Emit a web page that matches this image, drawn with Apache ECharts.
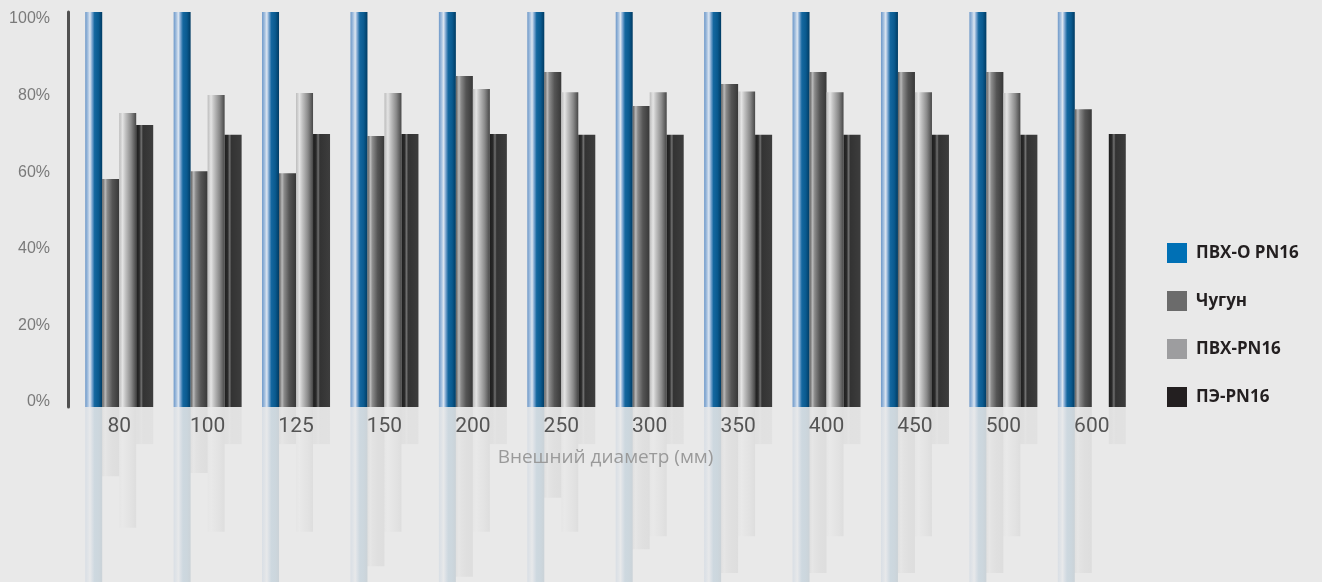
<!DOCTYPE html>
<html>
<head>
<meta charset="utf-8">
<title>Внешний диаметр (мм)</title>
<script src="https://cdn.jsdelivr.net/npm/echarts@6/dist/echarts.min.js"></script>
<style>
  html, body { margin: 0; padding: 0; background: #e9e9e9; }
  #chart { width: 1322px; height: 582px; }
</style>
</head>
<body>
<div id="chart"></div>
<script>
// Diameters, mm
const diameters = ['80', '100', '125', '150', '200', '250', '300', '350', '400', '450', '500', '600'];

// Values, % of the 0–100 scale
const pvhoPN16 = [100, 100, 100, 100, 100, 100, 100, 100, 100, 100, 100, 100];
const chugun   = [57.7, 59.7, 59.2, 68.6, 83.8, 84.8, 76.2, 81.8, 84.8, 84.8, 84.8, 75.4];
const pvhPN16  = [74.4, 79.0, 79.5, 79.5, 80.5, 79.7, 79.7, 79.9, 79.7, 79.7, 79.5, '-'];
const pePN16   = [71.4, 68.9, 69.1, 69.1, 69.1, 68.9, 68.9, 68.9, 68.9, 68.9, 68.9, 69.1];

// Length of the mirrored reflection under the axis, same % units
const reflPvho   = [100, 100, 100, 100, 100, 100, 100, 100, 100, 100, 100, 100];
const reflChugun = [17.5, 16.7, 9.4, 40.3, 43.0, 23.0, 36.0, 42.0, 42.0, 42.0, 42.0, 42.0];
const reflPvh    = [30.6, 31.6, 31.6, 31.6, 31.6, 31.6, 32.7, 32.7, 32.7, 32.7, 32.7, '-'];
const reflPe     = [9.4, 9.4, 9.4, 9.4, 9.4, 9.4, 9.4, 9.4, 9.4, 9.4, 9.4, 9.4];

const yTicks = [0, 20, 40, 60, 80, 100];

const seriesNames = ['ПВХ-О PN16', 'Чугун', 'ПВХ-PN16', 'ПЭ-PN16'];
const legendColors = ['#0070b5', '#6b6b6b', '#9d9d9f', '#231f20'];

const G = echarts.graphic.LinearGradient;
const gradients = [
  [[0, '#6d98c9'], [0.16, '#a6c1df'], [0.28, '#dde6f1'], [0.4, '#7fa8d2'], [0.55, '#14679f'], [0.78, '#0a5a8f'], [1, '#003b63']],
  [[0, '#5c5c5c'], [0.18, '#b9b9b9'], [0.3, '#8a8a8a'], [0.6, '#555555'], [1, '#383838']],
  [[0, '#bbbbbb'], [0.2, '#e4e4e4'], [0.36, '#c4c4c4'], [0.7, '#8a8a8a'], [1, '#474747']],
  [[0, '#1e1e1e'], [0.18, '#2a2a2a'], [0.3, '#707070'], [0.4, '#333333'], [1, '#3d3d3d']]
];
const fill = i => new G(0, 0, 1, 0, gradients[i].map(s => ({ offset: s[0], color: s[1] })));

const values = [pvhoPN16, chugun, pvhPN16, pePN16];
const reflections = [reflPvho, reflChugun, reflPvh, reflPe];
const reflOpacity = [0.13, 0.065, 0.07, 0.045];

const BAR_W = 17;
const plotLeft = 75, plotRight = 186;
const plotTop = 12, plotH = 395;            // 0..100 %
const reflTop = plotTop + plotH;            // reflections start at the baseline
const reflH = 582 - reflTop;                // down to the bottom edge
const reflMax = 100 * reflH / plotH;        // same px-per-% as the bars

const series = [];
values.forEach((d, i) => {
  series.push({
    name: seriesNames[i], type: 'bar', xAxisIndex: 0, yAxisIndex: 0,
    data: d, barWidth: BAR_W, barGap: '0%',
    itemStyle: { color: fill(i) }, silent: true, z: 3
  });
});
reflections.forEach((d, i) => {
  series.push({
    name: 'refl-' + i, type: 'bar', xAxisIndex: 2, yAxisIndex: 2,
    data: d, barWidth: BAR_W, barGap: '0%', clip: true,
    itemStyle: { color: fill(i), opacity: reflOpacity[i] }, silent: true, z: 1
  });
});

const chart = echarts.init(document.getElementById('chart'), null, { renderer: 'canvas' });
chart.setOption({
  backgroundColor: '#e9e9e9',
  animation: false,
  grid: [
    { left: plotLeft, right: plotRight, top: plotTop, height: plotH },   // bars
    { left: plotLeft, right: plotRight, top: 19, height: 383 },          // percent labels
    { left: plotLeft, right: plotRight, top: reflTop, height: reflH }    // reflections
  ],
  legend: {
    data: seriesNames.map((n, i) => ({ name: n, itemStyle: { color: legendColors[i] } })),
    orient: 'vertical', left: 1162, top: 238,
    icon: 'rect', itemWidth: 20, itemHeight: 20, itemGap: 28,
    selectedMode: false,
    textStyle: { fontFamily: '"Open Sans", "Noto Sans", sans-serif', fontWeight: 'bold', fontSize: 17, color: '#231f20', padding: [0, 0, 0, 4] }
  },
  xAxis: [
    {
      type: 'category', gridIndex: 0, data: diameters, z: 4,
      axisLine: { show: false }, axisTick: { show: false },
      axisLabel: { fontFamily: 'Roboto, "Liberation Sans", sans-serif', fontSize: 21, color: '#555555', margin: 9 },
      name: 'Внешний диаметр (мм)', nameLocation: 'middle', nameGap: 41,
      nameTextStyle: { fontFamily: '"Open Sans", "Noto Sans", sans-serif', fontSize: 19, color: '#9a9a9a' }
    },
    { type: 'category', gridIndex: 1, data: diameters, show: false },
    { type: 'category', gridIndex: 2, data: diameters, show: false }
  ],
  yAxis: [
    {
      type: 'value', gridIndex: 0, min: 0, max: 100, interval: 20, offset: 7,
      axisLine: { show: true, lineStyle: { color: '#505050', width: 3 } },
      axisTick: { show: false }, axisLabel: { show: false }, splitLine: { show: false }
    },
    {
      type: 'value', gridIndex: 1, min: yTicks[0], max: yTicks[yTicks.length - 1], interval: 20, offset: 7,
      axisLine: { show: false }, axisTick: { show: false }, splitLine: { show: false },
      axisLabel: { formatter: '{value}%', fontFamily: '"Liberation Sans", Arimo, sans-serif', fontSize: 16, color: '#7a7a7a', margin: 18 }
    },
    { type: 'value', gridIndex: 2, min: 0, max: reflMax, inverse: true, show: false }
  ],
  series: series
});
</script>
</body>
</html>
